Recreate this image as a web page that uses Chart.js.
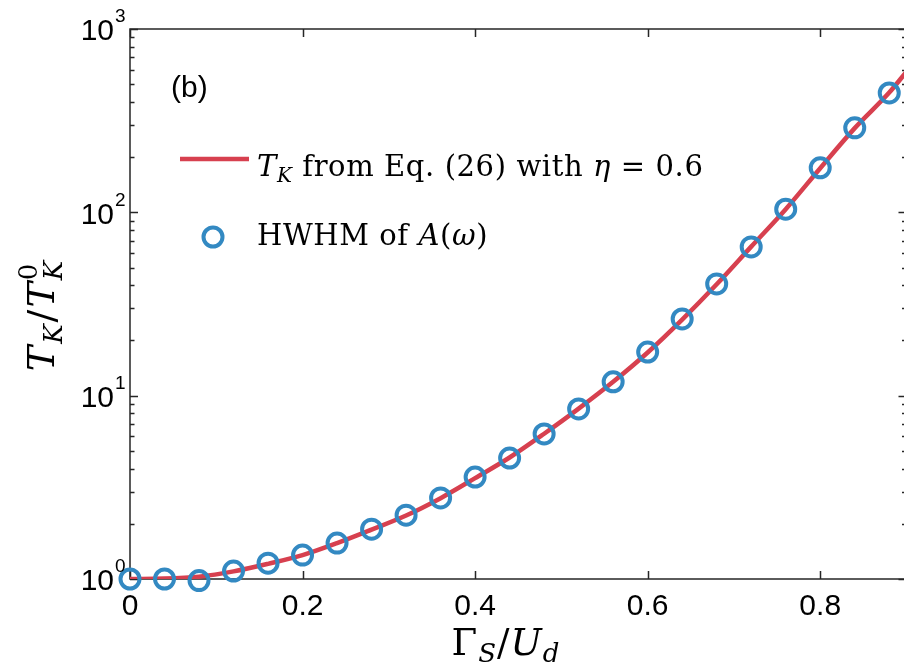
<!DOCTYPE html>
<html>
<head>
<meta charset="utf-8">
<script src="https://cdn.jsdelivr.net/npm/chart.js@4.4.1/dist/chart.umd.min.js"></script>
<style>
  html, body { margin: 0; padding: 0; background: #fff; overflow: hidden; }
  #wrap { width: 920px; height: 671px; }
</style>
</head>
<body>
<div id="wrap"><canvas id="tk" width="920" height="671"></canvas></div>
<script>
// HWHM points
const hwhmX = [0, 0.04, 0.08, 0.12, 0.16, 0.2, 0.24, 0.28, 0.32, 0.36, 0.4, 0.44,
               0.48, 0.52, 0.56, 0.6, 0.64, 0.68, 0.72, 0.76, 0.8, 0.84, 0.88];
const hwhmY = [1.0, 1.0, 0.98, 1.105, 1.22, 1.35, 1.57, 1.87, 2.23, 2.77, 3.6, 4.57,
               6.18, 8.46, 11.9, 17.3, 26.2, 40.7, 64.8, 104, 175, 289, 448];

// Eq. (26) curve, read at the same x plus the right edge
const eqX = [0, 0.04, 0.08, 0.12, 0.16, 0.2, 0.24, 0.28, 0.32, 0.36, 0.4, 0.44,
             0.48, 0.52, 0.56, 0.6, 0.64, 0.68, 0.72, 0.76, 0.8, 0.84, 0.88, 0.9];
const eqY = [1.0, 1.005, 1.03, 1.1, 1.21, 1.35, 1.57, 1.86, 2.22, 2.76, 3.55, 4.6,
             6.2, 8.5, 11.9, 17.2, 26, 40.5, 65, 104, 174, 288, 450, 585];

const xTicks = [0, 0.2, 0.4, 0.6, 0.8];
const xTickLabels = ['0', '0.2', '0.4', '0.6', '0.8'];
const yDecades = [1, 10, 100, 1000];
const yExponents = ['0', '1', '2', '3'];

const RED = '#d7404f';
const BLUE = '#3389c2';
const SANS = '"Liberation Sans", Arial, sans-serif';
const SERIF = '"DejaVu Serif", "Liberation Serif", serif';

// draw a run of text pieces left to right; piece = [text, font, dy, noAdvance]
function drawRun(ctx, pieces, x, y) {
    let cx = x;
    pieces.forEach(p => {
        ctx.font = p[1];
        ctx.fillText(p[0], cx, y + (p[2] || 0));
        if (!p[3]) cx += ctx.measureText(p[0]).width;
    });
    return cx - x;
}
function runWidth(ctx, pieces) {
    let w = 0;
    pieces.forEach(p => { ctx.font = p[1]; if (!p[3]) w += ctx.measureText(p[0]).width; });
    return w;
}

const framePlugin = {
    id: 'frame',
    beforeDatasetsDraw(chart) {
        const ctx = chart.ctx;
        const a = chart.chartArea;
        const xs = chart.scales.x, ys = chart.scales.y;
        ctx.save();
        ctx.strokeStyle = '#262626';
        ctx.lineWidth = 1.5;
        ctx.strokeRect(a.left, a.top, a.right - a.left, a.bottom - a.top);
        ctx.beginPath();
        xTicks.forEach(v => {
            const px = Math.round(xs.getPixelForValue(v)) + 0.5;
            ctx.moveTo(px, a.bottom); ctx.lineTo(px, a.bottom - 8);
            ctx.moveTo(px, a.top); ctx.lineTo(px, a.top + 8);
        });
        yDecades.forEach((d, i) => {
            for (let m = 1; m <= 9; m++) {
                if (i === yDecades.length - 1 && m > 1) break;
                const py = Math.round(ys.getPixelForValue(d * m)) + 0.5;
                const len = m === 1 ? 8 : 4.5;
                ctx.moveTo(a.left, py); ctx.lineTo(a.left + len, py);
                ctx.moveTo(a.right, py); ctx.lineTo(a.right - len, py);
            }
        });
        ctx.stroke();
        ctx.restore();
    },
    afterDraw(chart) {
        const ctx = chart.ctx;
        const a = chart.chartArea;
        const xs = chart.scales.x, ys = chart.scales.y;
        ctx.save();
        ctx.fillStyle = '#000';

        // x tick labels
        ctx.font = '30px ' + SANS;
        ctx.textAlign = 'center';
        ctx.textBaseline = 'middle';
        xTicks.forEach((v, i) => ctx.fillText(xTickLabels[i], xs.getPixelForValue(v), a.bottom + 28));

        // y tick labels 10^n
        yDecades.forEach((d, i) => {
            const py = ys.getPixelForValue(d);
            ctx.textBaseline = 'middle';
            ctx.textAlign = 'right';
            ctx.font = '30px ' + SANS;
            ctx.fillText('10', a.left - 16, py + 3);
            ctx.textAlign = 'left';
            ctx.font = '19px ' + SANS;
            ctx.fillText(yExponents[i], a.left - 15, py - 12);
        });

        // panel tag
        ctx.textAlign = 'left';
        ctx.textBaseline = 'alphabetic';
        ctx.font = '30px ' + SANS;
        ctx.fillText('(b)', 171, 97);

        // legend
        ctx.strokeStyle = RED;
        ctx.lineWidth = 4.5;
        ctx.beginPath(); ctx.moveTo(180, 159); ctx.lineTo(249, 159); ctx.stroke();
        ctx.strokeStyle = BLUE;
        ctx.lineWidth = 4;
        ctx.beginPath(); ctx.arc(213, 237, 9.5, 0, Math.PI * 2); ctx.stroke();

        ctx.letterSpacing = '0.6px';
        const it = 'italic 29px ' + SERIF, rm = '29px ' + SERIF, sub = 'italic 20px ' + SERIF;
        drawRun(ctx, [['T', it], ['K', sub, 6], [' from Eq. (26) with ', rm], ['η', it], [' = 0.6', rm]], 257, 176);
        drawRun(ctx, [['HWHM of ', rm], ['A', it], ['(', rm], ['ω', it], [')', rm]], 257, 245);

        // x axis title
        ctx.letterSpacing = '1px';
        const xt = [['Γ', '37px ' + SERIF], ['S', 'italic 26px ' + SERIF, 7], ['/', '37px ' + SERIF],
                    ['U', 'italic 37px ' + SERIF], ['d', 'italic 26px ' + SERIF, 7]];
        const xw = runWidth(ctx, xt);
        drawRun(ctx, xt, 506 - xw / 2, 655);

        // y axis title, rotated
        ctx.letterSpacing = '2px';
        const yt = [['T', 'italic 38px ' + SERIF], ['K', 'italic 26px ' + SERIF, 8], ['/', '38px ' + SERIF],
                    ['T', 'italic 38px ' + SERIF], ['0', '26px ' + SERIF, -17, true], ['K', 'italic 26px ' + SERIF, 8]];
        const yw = runWidth(ctx, yt);
        ctx.translate(54, 315);
        ctx.rotate(-Math.PI / 2);
        drawRun(ctx, yt, -yw / 2, 0);
        ctx.restore();
    }
};

new Chart(document.getElementById('tk'), {
    type: 'scatter',
    data: {
        datasets: [
            {
                label: 'HWHM of A(ω)',
                data: hwhmX.map((x, i) => ({ x: x, y: hwhmY[i] })),
                pointStyle: 'circle',
                pointRadius: 9.5,
                pointBorderWidth: 4,
                pointBorderColor: BLUE,
                pointBackgroundColor: 'rgba(0,0,0,0)',
                showLine: false,
                clip: false,
                order: 0
            },
            {
                label: 'T_K from Eq. (26) with η = 0.6',
                data: eqX.map((x, i) => ({ x: x, y: eqY[i] })),
                showLine: true,
                borderColor: RED,
                borderWidth: 4.5,
                pointRadius: 0,
                cubicInterpolationMode: 'monotone',
                order: 1
            }
        ]
    },
    options: {
        responsive: false,
        animation: false,
        events: [],
        layout: { padding: { left: 130, top: 29, right: 10, bottom: 92 } },
        plugins: { legend: { display: false }, tooltip: { enabled: false } },
        scales: {
            x: { type: 'linear', min: 0, max: 0.9, display: false },
            y: { type: 'logarithmic', min: 1, max: 1000, display: false }
        }
    },
    plugins: [framePlugin]
});
</script>
</body>
</html>
